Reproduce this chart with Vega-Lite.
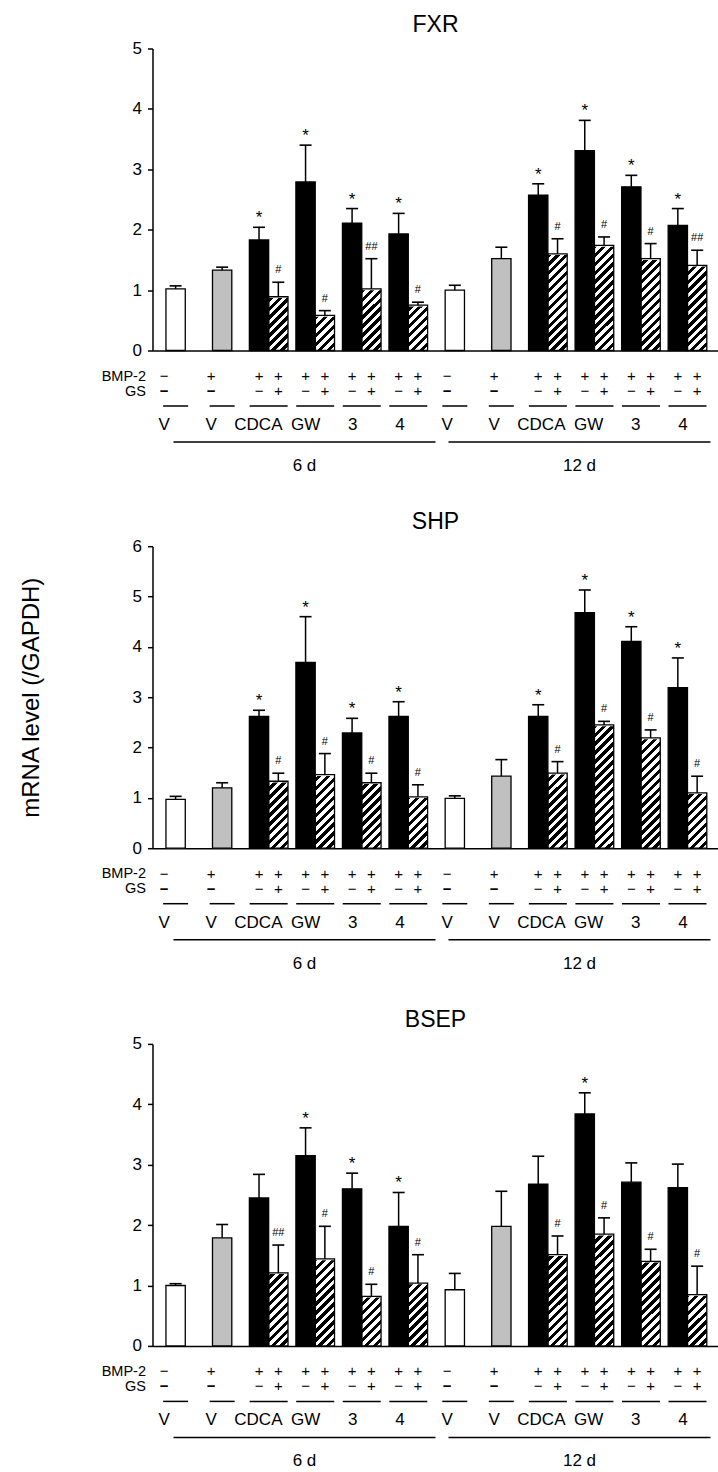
{
"$schema":"https://vega.github.io/schema/vega-lite/v6.json",
"padding":{"left":18.5,"top":13.5,"right":0,"bottom":0},
"spacing":36.7,
"datasets":{
"fxr":[
{"day":"6 d","grp":"6d V1","cpd":"V","bmp":"−","gs":"−","mean":1.02,"upper":1.07,"sig":""},
{"day":"6 d","grp":"6d V2","cpd":"V","bmp":"+","gs":"−","mean":1.33,"upper":1.38,"sig":""},
{"day":"6 d","grp":"6d CDCA","cpd":"CDCA","bmp":"+","gs":"−","mean":1.83,"upper":2.04,"sig":"*"},
{"day":"6 d","grp":"6d CDCA","cpd":"CDCA","bmp":"+","gs":"+","mean":0.89,"upper":1.13,"sig":"#"},
{"day":"6 d","grp":"6d GW","cpd":"GW","bmp":"+","gs":"−","mean":2.79,"upper":3.40,"sig":"*"},
{"day":"6 d","grp":"6d GW","cpd":"GW","bmp":"+","gs":"+","mean":0.58,"upper":0.66,"sig":"#"},
{"day":"6 d","grp":"6d 3","cpd":"3","bmp":"+","gs":"−","mean":2.11,"upper":2.35,"sig":"*"},
{"day":"6 d","grp":"6d 3","cpd":"3","bmp":"+","gs":"+","mean":1.02,"upper":1.52,"sig":"##"},
{"day":"6 d","grp":"6d 4","cpd":"4","bmp":"+","gs":"−","mean":1.93,"upper":2.27,"sig":"*"},
{"day":"6 d","grp":"6d 4","cpd":"4","bmp":"+","gs":"+","mean":0.75,"upper":0.80,"sig":"#"},
{"day":"12 d","grp":"12d V1","cpd":"V","bmp":"−","gs":"−","mean":1.00,"upper":1.08,"sig":""},
{"day":"12 d","grp":"12d V2","cpd":"V","bmp":"+","gs":"−","mean":1.52,"upper":1.71,"sig":""},
{"day":"12 d","grp":"12d CDCA","cpd":"CDCA","bmp":"+","gs":"−","mean":2.57,"upper":2.76,"sig":"*"},
{"day":"12 d","grp":"12d CDCA","cpd":"CDCA","bmp":"+","gs":"+","mean":1.60,"upper":1.85,"sig":"#"},
{"day":"12 d","grp":"12d GW","cpd":"GW","bmp":"+","gs":"−","mean":3.31,"upper":3.81,"sig":"*"},
{"day":"12 d","grp":"12d GW","cpd":"GW","bmp":"+","gs":"+","mean":1.74,"upper":1.88,"sig":"#"},
{"day":"12 d","grp":"12d 3","cpd":"3","bmp":"+","gs":"−","mean":2.71,"upper":2.90,"sig":"*"},
{"day":"12 d","grp":"12d 3","cpd":"3","bmp":"+","gs":"+","mean":1.52,"upper":1.77,"sig":"#"},
{"day":"12 d","grp":"12d 4","cpd":"4","bmp":"+","gs":"−","mean":2.07,"upper":2.35,"sig":"*"},
{"day":"12 d","grp":"12d 4","cpd":"4","bmp":"+","gs":"+","mean":1.41,"upper":1.66,"sig":"##"}
],
"shp":[
{"day":"6 d","grp":"6d V1","cpd":"V","bmp":"−","gs":"−","mean":0.97,"upper":1.03,"sig":""},
{"day":"6 d","grp":"6d V2","cpd":"V","bmp":"+","gs":"−","mean":1.20,"upper":1.30,"sig":""},
{"day":"6 d","grp":"6d CDCA","cpd":"CDCA","bmp":"+","gs":"−","mean":2.62,"upper":2.74,"sig":"*"},
{"day":"6 d","grp":"6d CDCA","cpd":"CDCA","bmp":"+","gs":"+","mean":1.33,"upper":1.49,"sig":"#"},
{"day":"6 d","grp":"6d GW","cpd":"GW","bmp":"+","gs":"−","mean":3.69,"upper":4.60,"sig":"*"},
{"day":"6 d","grp":"6d GW","cpd":"GW","bmp":"+","gs":"+","mean":1.46,"upper":1.88,"sig":"#"},
{"day":"6 d","grp":"6d 3","cpd":"3","bmp":"+","gs":"−","mean":2.29,"upper":2.58,"sig":"*"},
{"day":"6 d","grp":"6d 3","cpd":"3","bmp":"+","gs":"+","mean":1.30,"upper":1.49,"sig":"#"},
{"day":"6 d","grp":"6d 4","cpd":"4","bmp":"+","gs":"−","mean":2.62,"upper":2.91,"sig":"*"},
{"day":"6 d","grp":"6d 4","cpd":"4","bmp":"+","gs":"+","mean":1.02,"upper":1.26,"sig":"#"},
{"day":"12 d","grp":"12d V1","cpd":"V","bmp":"−","gs":"−","mean":0.99,"upper":1.04,"sig":""},
{"day":"12 d","grp":"12d V2","cpd":"V","bmp":"+","gs":"−","mean":1.43,"upper":1.76,"sig":""},
{"day":"12 d","grp":"12d CDCA","cpd":"CDCA","bmp":"+","gs":"−","mean":2.62,"upper":2.85,"sig":"*"},
{"day":"12 d","grp":"12d CDCA","cpd":"CDCA","bmp":"+","gs":"+","mean":1.49,"upper":1.72,"sig":"#"},
{"day":"12 d","grp":"12d GW","cpd":"GW","bmp":"+","gs":"−","mean":4.68,"upper":5.13,"sig":"*"},
{"day":"12 d","grp":"12d GW","cpd":"GW","bmp":"+","gs":"+","mean":2.45,"upper":2.52,"sig":"#"},
{"day":"12 d","grp":"12d 3","cpd":"3","bmp":"+","gs":"−","mean":4.11,"upper":4.40,"sig":"*"},
{"day":"12 d","grp":"12d 3","cpd":"3","bmp":"+","gs":"+","mean":2.19,"upper":2.35,"sig":"#"},
{"day":"12 d","grp":"12d 4","cpd":"4","bmp":"+","gs":"−","mean":3.19,"upper":3.78,"sig":"*"},
{"day":"12 d","grp":"12d 4","cpd":"4","bmp":"+","gs":"+","mean":1.10,"upper":1.43,"sig":"#"}
],
"bsep":[
{"day":"6 d","grp":"6d V1","cpd":"V","bmp":"−","gs":"−","mean":1.00,"upper":1.03,"sig":""},
{"day":"6 d","grp":"6d V2","cpd":"V","bmp":"+","gs":"−","mean":1.79,"upper":2.01,"sig":""},
{"day":"6 d","grp":"6d CDCA","cpd":"CDCA","bmp":"+","gs":"−","mean":2.45,"upper":2.84,"sig":""},
{"day":"6 d","grp":"6d CDCA","cpd":"CDCA","bmp":"+","gs":"+","mean":1.21,"upper":1.67,"sig":"##"},
{"day":"6 d","grp":"6d GW","cpd":"GW","bmp":"+","gs":"−","mean":3.15,"upper":3.61,"sig":"*"},
{"day":"6 d","grp":"6d GW","cpd":"GW","bmp":"+","gs":"+","mean":1.44,"upper":1.98,"sig":"#"},
{"day":"6 d","grp":"6d 3","cpd":"3","bmp":"+","gs":"−","mean":2.60,"upper":2.86,"sig":"*"},
{"day":"6 d","grp":"6d 3","cpd":"3","bmp":"+","gs":"+","mean":0.82,"upper":1.02,"sig":"#"},
{"day":"6 d","grp":"6d 4","cpd":"4","bmp":"+","gs":"−","mean":1.98,"upper":2.54,"sig":"*"},
{"day":"6 d","grp":"6d 4","cpd":"4","bmp":"+","gs":"+","mean":1.04,"upper":1.51,"sig":"#"},
{"day":"12 d","grp":"12d V1","cpd":"V","bmp":"−","gs":"−","mean":0.93,"upper":1.20,"sig":""},
{"day":"12 d","grp":"12d V2","cpd":"V","bmp":"+","gs":"−","mean":1.98,"upper":2.56,"sig":""},
{"day":"12 d","grp":"12d CDCA","cpd":"CDCA","bmp":"+","gs":"−","mean":2.68,"upper":3.14,"sig":""},
{"day":"12 d","grp":"12d CDCA","cpd":"CDCA","bmp":"+","gs":"+","mean":1.51,"upper":1.82,"sig":"#"},
{"day":"12 d","grp":"12d GW","cpd":"GW","bmp":"+","gs":"−","mean":3.84,"upper":4.19,"sig":"*"},
{"day":"12 d","grp":"12d GW","cpd":"GW","bmp":"+","gs":"+","mean":1.85,"upper":2.12,"sig":"#"},
{"day":"12 d","grp":"12d 3","cpd":"3","bmp":"+","gs":"−","mean":2.71,"upper":3.03,"sig":""},
{"day":"12 d","grp":"12d 3","cpd":"3","bmp":"+","gs":"+","mean":1.40,"upper":1.60,"sig":"#"},
{"day":"12 d","grp":"12d 4","cpd":"4","bmp":"+","gs":"−","mean":2.62,"upper":3.01,"sig":""},
{"day":"12 d","grp":"12d 4","cpd":"4","bmp":"+","gs":"+","mean":0.85,"upper":1.32,"sig":"#"}
]
},
"vconcat":[
{"spacing":9.5,"vconcat":[
{"title":{"text":"FXR"},"width":566,"height":302,"data":{"name":"fxr"},
"encoding":{
"x":{"field":"grp","type":"nominal","sort":null,"scale":{"domain":["6d V1","6d V2","6d CDCA","6d GW","6d 3","6d 4","12d V1","12d V2","12d CDCA","12d GW","12d 3","12d 4"],"paddingInner":0.17,"paddingOuter":0.1666,"align":0.245},"axis":{"labels":false,"ticks":false,"title":null}},
"y":{"field":"mean","type":"quantitative","title":null,"scale":{"domain":[0,5],"nice":false},"axis":{"values":[0,1,2,3,4,5]}}},
"layer":[
{"transform":[{"filter":"datum.gs === '+'"}],"mark":{"type":"bar","strokeWidth":0,"fill":{"gradient":"linear","x1":0,"y1":0,"x2":0.0677,"y2":1.0596,"stops":[{"offset":0,"color":"#000"},{"offset":0.0139,"color":"#000"},{"offset":0.0139,"color":"#fff"},{"offset":0.0278,"color":"#fff"},{"offset":0.0278,"color":"#000"},{"offset":0.0417,"color":"#000"},{"offset":0.0417,"color":"#fff"},{"offset":0.0556,"color":"#fff"},{"offset":0.0556,"color":"#000"},{"offset":0.0694,"color":"#000"},{"offset":0.0694,"color":"#fff"},{"offset":0.0833,"color":"#fff"},{"offset":0.0833,"color":"#000"},{"offset":0.0972,"color":"#000"},{"offset":0.0972,"color":"#fff"},{"offset":0.1111,"color":"#fff"},{"offset":0.1111,"color":"#000"},{"offset":0.125,"color":"#000"},{"offset":0.125,"color":"#fff"},{"offset":0.1389,"color":"#fff"},{"offset":0.1389,"color":"#000"},{"offset":0.1528,"color":"#000"},{"offset":0.1528,"color":"#fff"},{"offset":0.1667,"color":"#fff"},{"offset":0.1667,"color":"#000"},{"offset":0.1806,"color":"#000"},{"offset":0.1806,"color":"#fff"},{"offset":0.1944,"color":"#fff"},{"offset":0.1944,"color":"#000"},{"offset":0.2083,"color":"#000"},{"offset":0.2083,"color":"#fff"},{"offset":0.2222,"color":"#fff"},{"offset":0.2222,"color":"#000"},{"offset":0.2361,"color":"#000"},{"offset":0.2361,"color":"#fff"},{"offset":0.25,"color":"#fff"},{"offset":0.25,"color":"#000"},{"offset":0.2639,"color":"#000"},{"offset":0.2639,"color":"#fff"},{"offset":0.2778,"color":"#fff"},{"offset":0.2778,"color":"#000"},{"offset":0.2917,"color":"#000"},{"offset":0.2917,"color":"#fff"},{"offset":0.3056,"color":"#fff"},{"offset":0.3056,"color":"#000"},{"offset":0.3194,"color":"#000"},{"offset":0.3194,"color":"#fff"},{"offset":0.3333,"color":"#fff"},{"offset":0.3333,"color":"#000"},{"offset":0.3472,"color":"#000"},{"offset":0.3472,"color":"#fff"},{"offset":0.3611,"color":"#fff"},{"offset":0.3611,"color":"#000"},{"offset":0.375,"color":"#000"},{"offset":0.375,"color":"#fff"},{"offset":0.3889,"color":"#fff"},{"offset":0.3889,"color":"#000"},{"offset":0.4028,"color":"#000"},{"offset":0.4028,"color":"#fff"},{"offset":0.4167,"color":"#fff"},{"offset":0.4167,"color":"#000"},{"offset":0.4306,"color":"#000"},{"offset":0.4306,"color":"#fff"},{"offset":0.4444,"color":"#fff"},{"offset":0.4444,"color":"#000"},{"offset":0.4583,"color":"#000"},{"offset":0.4583,"color":"#fff"},{"offset":0.4722,"color":"#fff"},{"offset":0.4722,"color":"#000"},{"offset":0.4861,"color":"#000"},{"offset":0.4861,"color":"#fff"},{"offset":0.5,"color":"#fff"},{"offset":0.5,"color":"#000"},{"offset":0.5139,"color":"#000"},{"offset":0.5139,"color":"#fff"},{"offset":0.5278,"color":"#fff"},{"offset":0.5278,"color":"#000"},{"offset":0.5417,"color":"#000"},{"offset":0.5417,"color":"#fff"},{"offset":0.5556,"color":"#fff"},{"offset":0.5556,"color":"#000"},{"offset":0.5694,"color":"#000"},{"offset":0.5694,"color":"#fff"},{"offset":0.5833,"color":"#fff"},{"offset":0.5833,"color":"#000"},{"offset":0.5972,"color":"#000"},{"offset":0.5972,"color":"#fff"},{"offset":0.6111,"color":"#fff"},{"offset":0.6111,"color":"#000"},{"offset":0.625,"color":"#000"},{"offset":0.625,"color":"#fff"},{"offset":0.6389,"color":"#fff"},{"offset":0.6389,"color":"#000"},{"offset":0.6528,"color":"#000"},{"offset":0.6528,"color":"#fff"},{"offset":0.6667,"color":"#fff"},{"offset":0.6667,"color":"#000"},{"offset":0.6806,"color":"#000"},{"offset":0.6806,"color":"#fff"},{"offset":0.6944,"color":"#fff"},{"offset":0.6944,"color":"#000"},{"offset":0.7083,"color":"#000"},{"offset":0.7083,"color":"#fff"},{"offset":0.7222,"color":"#fff"},{"offset":0.7222,"color":"#000"},{"offset":0.7361,"color":"#000"},{"offset":0.7361,"color":"#fff"},{"offset":0.75,"color":"#fff"},{"offset":0.75,"color":"#000"},{"offset":0.7639,"color":"#000"},{"offset":0.7639,"color":"#fff"},{"offset":0.7778,"color":"#fff"},{"offset":0.7778,"color":"#000"},{"offset":0.7917,"color":"#000"},{"offset":0.7917,"color":"#fff"},{"offset":0.8056,"color":"#fff"},{"offset":0.8056,"color":"#000"},{"offset":0.8194,"color":"#000"},{"offset":0.8194,"color":"#fff"},{"offset":0.8333,"color":"#fff"},{"offset":0.8333,"color":"#000"},{"offset":0.8472,"color":"#000"},{"offset":0.8472,"color":"#fff"},{"offset":0.8611,"color":"#fff"},{"offset":0.8611,"color":"#000"},{"offset":0.875,"color":"#000"},{"offset":0.875,"color":"#fff"},{"offset":0.8889,"color":"#fff"},{"offset":0.8889,"color":"#000"},{"offset":0.9028,"color":"#000"},{"offset":0.9028,"color":"#fff"},{"offset":0.9167,"color":"#fff"},{"offset":0.9167,"color":"#000"},{"offset":0.9306,"color":"#000"},{"offset":0.9306,"color":"#fff"},{"offset":0.9444,"color":"#fff"},{"offset":0.9444,"color":"#000"},{"offset":0.9583,"color":"#000"},{"offset":0.9583,"color":"#fff"},{"offset":0.9722,"color":"#fff"},{"offset":0.9722,"color":"#000"},{"offset":0.9861,"color":"#000"},{"offset":0.9861,"color":"#fff"},{"offset":1,"color":"#fff"}]}},"encoding":{"xOffset":{"field":"gs","type":"nominal","sort":null,"scale":{"domain":["−","+"],"paddingInner":0,"paddingOuter":0}},"y":{"datum":5,"type":"quantitative","title":null},"y2":{"datum":0}}},
{"transform":[{"filter":"datum.gs === '+'"}],"mark":{"type":"bar","fill":"#fff","stroke":"#fff","strokeWidth":2.5},"encoding":{"xOffset":{"field":"gs","type":"nominal","sort":null,"scale":{"domain":["−","+"],"paddingInner":0,"paddingOuter":0}},"y2":{"datum":5}}},
{"transform":[{"filter":"datum.cpd === 'V'"}],"mark":{"type":"bar","width":{"band":0.5},"stroke":"#000","strokeWidth":1.3},"encoding":{"fill":{"condition":{"test":"datum.bmp === '−'","value":"#ffffff"},"value":"#c0c0c0"}}},
{"transform":[{"filter":"datum.cpd !== 'V' && datum.gs === '−'"}],"mark":{"type":"bar","fill":"#000","stroke":"#000","strokeWidth":1.3},"encoding":{"xOffset":{"field":"gs","type":"nominal","sort":null,"scale":{"domain":["−","+"],"paddingInner":0,"paddingOuter":0}}}},
{"transform":[{"filter":"datum.gs === '+'"}],"mark":{"type":"bar","fill":"transparent","stroke":"#000","strokeWidth":1.3},"encoding":{"xOffset":{"field":"gs","type":"nominal","sort":null,"scale":{"domain":["−","+"],"paddingInner":0,"paddingOuter":0}}}},
{"transform":[{"filter":"datum.cpd === 'V'"}],"mark":{"type":"rule","color":"#000","strokeWidth":1.5},"encoding":{"y2":{"field":"upper"}}},
{"transform":[{"filter":"datum.cpd !== 'V'"}],"mark":{"type":"rule","color":"#000","strokeWidth":1.5},"encoding":{"xOffset":{"field":"gs","type":"nominal","sort":null,"scale":{"domain":["−","+"],"paddingInner":0,"paddingOuter":0}},"y2":{"field":"upper"}}},
{"transform":[{"filter":"datum.cpd === 'V'"}],"mark":{"type":"tick","orient":"horizontal","size":12,"thickness":1.6,"color":"#000","opacity":1},"encoding":{"y":{"field":"upper","type":"quantitative","title":null}}},
{"transform":[{"filter":"datum.cpd !== 'V'"}],"mark":{"type":"tick","orient":"horizontal","size":12,"thickness":1.6,"color":"#000","opacity":1},"encoding":{"xOffset":{"field":"gs","type":"nominal","sort":null,"scale":{"domain":["−","+"],"paddingInner":0,"paddingOuter":0}},"y":{"field":"upper","type":"quantitative","title":null}}},
{"transform":[{"filter":"datum.sig === '*'"}],"mark":{"type":"text","text":"*","fontSize":17,"dy":-9,"color":"#000"},"encoding":{"xOffset":{"field":"gs","type":"nominal","sort":null,"scale":{"domain":["−","+"],"paddingInner":0,"paddingOuter":0}},"y":{"field":"upper","type":"quantitative","title":null}}},
{"transform":[{"filter":"indexof(datum.sig, '#') === 0"}],"mark":{"type":"text","fontSize":11,"dy":-12,"color":"#000"},"encoding":{"xOffset":{"field":"gs","type":"nominal","sort":null,"scale":{"domain":["−","+"],"paddingInner":0,"paddingOuter":0}},"y":{"field":"upper","type":"quantitative","title":null},"text":{"field":"sig"}}}
]},
{"width":566,"height":90,"data":{"name":"fxr"},
"encoding":{"x":{"field":"grp","type":"nominal","sort":null,"scale":{"domain":["6d V1","6d V2","6d CDCA","6d GW","6d 3","6d 4","12d V1","12d V2","12d CDCA","12d GW","12d 3","12d 4"],"paddingInner":0.17,"paddingOuter":0.1666,"align":0.245},"axis":null}},
"resolve":{"scale":{"x":"independent"}},
"layer":[
{"transform":[{"filter":"datum.cpd === 'V'"}],"mark":{"type":"text","fontSize":15},"encoding":{"y":{"datum":"BMP-2","type":"ordinal","title":null,"scale":{"type":"point","domain":["BMP-2","GS","line","name","span","gap","day"],"padding":0},"axis":{"domain":false,"ticks":false,"labelPadding":7,"labelFontSize":14.5,"labelExpr":"datum.value === 'BMP-2' || datum.value === 'GS' ? datum.value : ''"}},"text":{"field":"bmp"},"fontWeight":{"condition":{"test":"datum.bmp === '−'","value":"bold"},"value":"normal"}}},
{"transform":[{"filter":"datum.cpd === 'V'"}],"mark":{"type":"text","fontSize":15,"fontWeight":"bold"},"encoding":{"y":{"datum":"GS","type":"ordinal","title":null,"scale":{"type":"point","domain":["BMP-2","GS","line","name","span","gap","day"],"padding":0}},"text":{"field":"gs"}}},
{"transform":[{"filter":"datum.cpd !== 'V'"}],"mark":{"type":"text","fontSize":15},"encoding":{"xOffset":{"field":"gs","type":"nominal","sort":null,"scale":{"domain":["−","+"],"paddingInner":0,"paddingOuter":0}},"y":{"datum":"BMP-2","type":"ordinal","title":null,"scale":{"type":"point","domain":["BMP-2","GS","line","name","span","gap","day"],"padding":0}},"text":{"field":"bmp"}}},
{"transform":[{"filter":"datum.cpd !== 'V'"}],"mark":{"type":"text","fontSize":15},"encoding":{"xOffset":{"field":"gs","type":"nominal","sort":null,"scale":{"domain":["−","+"],"paddingInner":0,"paddingOuter":0}},"y":{"datum":"GS","type":"ordinal","title":null,"scale":{"type":"point","domain":["BMP-2","GS","line","name","span","gap","day"],"padding":0}},"text":{"field":"gs"},"fontWeight":{"condition":{"test":"datum.gs === '−'","value":"bold"},"value":"normal"}}},
{"transform":[{"filter":"datum.gs === '−'"}],"mark":{"type":"text","fontSize":17,"dy":4},"encoding":{"y":{"datum":"name","type":"ordinal","title":null,"scale":{"type":"point","domain":["BMP-2","GS","line","name","span","gap","day"],"padding":0}},"text":{"field":"cpd"},"fontWeight":{"condition":{"test":"datum.cpd === '3' || datum.cpd === '4'","value":"bold"},"value":"normal"}}},
{"transform":[{"filter":"datum.cpd === 'V'"}],"mark":{"type":"tick","orient":"horizontal","size":25,"thickness":1.5,"color":"#000","opacity":1},"encoding":{"y":{"datum":"line","type":"ordinal","title":null,"scale":{"type":"point","domain":["BMP-2","GS","line","name","span","gap","day"],"padding":0}}}},
{"transform":[{"filter":"datum.cpd !== 'V' && datum.gs === '−'"}],"mark":{"type":"tick","orient":"horizontal","size":38,"thickness":1.5,"color":"#000","opacity":1},"encoding":{"y":{"datum":"line","type":"ordinal","title":null,"scale":{"type":"point","domain":["BMP-2","GS","line","name","span","gap","day"],"padding":0}}}},
{"transform":[{"filter":"datum.cpd === 'V' && datum.bmp === '−'"}],"mark":{"type":"tick","orient":"horizontal","size":262,"thickness":1.5,"color":"#000","opacity":1,"yOffset":6},"encoding":{"x":{"field":"day","type":"nominal","sort":null,"scale":{"type":"band","domain":["6 d","12 d"],"paddingInner":0,"paddingOuter":0.0291,"align":0.906},"axis":null},"y":{"datum":"span","type":"ordinal","title":null,"scale":{"type":"point","domain":["BMP-2","GS","line","name","span","gap","day"],"padding":0}}}},
{"transform":[{"filter":"datum.cpd === 'V' && datum.bmp === '−'"}],"mark":{"type":"text","fontSize":17},"encoding":{"x":{"field":"day","type":"nominal","sort":null,"scale":{"type":"band","domain":["6 d","12 d"],"paddingInner":0,"paddingOuter":0.0291,"align":0.906},"axis":null},"y":{"datum":"day","type":"ordinal","title":null,"scale":{"type":"point","domain":["BMP-2","GS","line","name","span","gap","day"],"padding":0}},"text":{"field":"day"}}}
]}
]},
{"spacing":9.5,"vconcat":[
{"title":{"text":"SHP"},"width":566,"height":302,"data":{"name":"shp"},
"encoding":{
"x":{"field":"grp","type":"nominal","sort":null,"scale":{"domain":["6d V1","6d V2","6d CDCA","6d GW","6d 3","6d 4","12d V1","12d V2","12d CDCA","12d GW","12d 3","12d 4"],"paddingInner":0.17,"paddingOuter":0.1666,"align":0.245},"axis":{"labels":false,"ticks":false,"title":null}},
"y":{"field":"mean","type":"quantitative","title":"mRNA level  (/GAPDH)","scale":{"domain":[0,6],"nice":false},"axis":{"values":[0,1,2,3,4,5,6]}}},
"layer":[
{"transform":[{"filter":"datum.gs === '+'"}],"mark":{"type":"bar","strokeWidth":0,"fill":{"gradient":"linear","x1":0,"y1":0,"x2":0.0677,"y2":1.0596,"stops":[{"offset":0,"color":"#000"},{"offset":0.0139,"color":"#000"},{"offset":0.0139,"color":"#fff"},{"offset":0.0278,"color":"#fff"},{"offset":0.0278,"color":"#000"},{"offset":0.0417,"color":"#000"},{"offset":0.0417,"color":"#fff"},{"offset":0.0556,"color":"#fff"},{"offset":0.0556,"color":"#000"},{"offset":0.0694,"color":"#000"},{"offset":0.0694,"color":"#fff"},{"offset":0.0833,"color":"#fff"},{"offset":0.0833,"color":"#000"},{"offset":0.0972,"color":"#000"},{"offset":0.0972,"color":"#fff"},{"offset":0.1111,"color":"#fff"},{"offset":0.1111,"color":"#000"},{"offset":0.125,"color":"#000"},{"offset":0.125,"color":"#fff"},{"offset":0.1389,"color":"#fff"},{"offset":0.1389,"color":"#000"},{"offset":0.1528,"color":"#000"},{"offset":0.1528,"color":"#fff"},{"offset":0.1667,"color":"#fff"},{"offset":0.1667,"color":"#000"},{"offset":0.1806,"color":"#000"},{"offset":0.1806,"color":"#fff"},{"offset":0.1944,"color":"#fff"},{"offset":0.1944,"color":"#000"},{"offset":0.2083,"color":"#000"},{"offset":0.2083,"color":"#fff"},{"offset":0.2222,"color":"#fff"},{"offset":0.2222,"color":"#000"},{"offset":0.2361,"color":"#000"},{"offset":0.2361,"color":"#fff"},{"offset":0.25,"color":"#fff"},{"offset":0.25,"color":"#000"},{"offset":0.2639,"color":"#000"},{"offset":0.2639,"color":"#fff"},{"offset":0.2778,"color":"#fff"},{"offset":0.2778,"color":"#000"},{"offset":0.2917,"color":"#000"},{"offset":0.2917,"color":"#fff"},{"offset":0.3056,"color":"#fff"},{"offset":0.3056,"color":"#000"},{"offset":0.3194,"color":"#000"},{"offset":0.3194,"color":"#fff"},{"offset":0.3333,"color":"#fff"},{"offset":0.3333,"color":"#000"},{"offset":0.3472,"color":"#000"},{"offset":0.3472,"color":"#fff"},{"offset":0.3611,"color":"#fff"},{"offset":0.3611,"color":"#000"},{"offset":0.375,"color":"#000"},{"offset":0.375,"color":"#fff"},{"offset":0.3889,"color":"#fff"},{"offset":0.3889,"color":"#000"},{"offset":0.4028,"color":"#000"},{"offset":0.4028,"color":"#fff"},{"offset":0.4167,"color":"#fff"},{"offset":0.4167,"color":"#000"},{"offset":0.4306,"color":"#000"},{"offset":0.4306,"color":"#fff"},{"offset":0.4444,"color":"#fff"},{"offset":0.4444,"color":"#000"},{"offset":0.4583,"color":"#000"},{"offset":0.4583,"color":"#fff"},{"offset":0.4722,"color":"#fff"},{"offset":0.4722,"color":"#000"},{"offset":0.4861,"color":"#000"},{"offset":0.4861,"color":"#fff"},{"offset":0.5,"color":"#fff"},{"offset":0.5,"color":"#000"},{"offset":0.5139,"color":"#000"},{"offset":0.5139,"color":"#fff"},{"offset":0.5278,"color":"#fff"},{"offset":0.5278,"color":"#000"},{"offset":0.5417,"color":"#000"},{"offset":0.5417,"color":"#fff"},{"offset":0.5556,"color":"#fff"},{"offset":0.5556,"color":"#000"},{"offset":0.5694,"color":"#000"},{"offset":0.5694,"color":"#fff"},{"offset":0.5833,"color":"#fff"},{"offset":0.5833,"color":"#000"},{"offset":0.5972,"color":"#000"},{"offset":0.5972,"color":"#fff"},{"offset":0.6111,"color":"#fff"},{"offset":0.6111,"color":"#000"},{"offset":0.625,"color":"#000"},{"offset":0.625,"color":"#fff"},{"offset":0.6389,"color":"#fff"},{"offset":0.6389,"color":"#000"},{"offset":0.6528,"color":"#000"},{"offset":0.6528,"color":"#fff"},{"offset":0.6667,"color":"#fff"},{"offset":0.6667,"color":"#000"},{"offset":0.6806,"color":"#000"},{"offset":0.6806,"color":"#fff"},{"offset":0.6944,"color":"#fff"},{"offset":0.6944,"color":"#000"},{"offset":0.7083,"color":"#000"},{"offset":0.7083,"color":"#fff"},{"offset":0.7222,"color":"#fff"},{"offset":0.7222,"color":"#000"},{"offset":0.7361,"color":"#000"},{"offset":0.7361,"color":"#fff"},{"offset":0.75,"color":"#fff"},{"offset":0.75,"color":"#000"},{"offset":0.7639,"color":"#000"},{"offset":0.7639,"color":"#fff"},{"offset":0.7778,"color":"#fff"},{"offset":0.7778,"color":"#000"},{"offset":0.7917,"color":"#000"},{"offset":0.7917,"color":"#fff"},{"offset":0.8056,"color":"#fff"},{"offset":0.8056,"color":"#000"},{"offset":0.8194,"color":"#000"},{"offset":0.8194,"color":"#fff"},{"offset":0.8333,"color":"#fff"},{"offset":0.8333,"color":"#000"},{"offset":0.8472,"color":"#000"},{"offset":0.8472,"color":"#fff"},{"offset":0.8611,"color":"#fff"},{"offset":0.8611,"color":"#000"},{"offset":0.875,"color":"#000"},{"offset":0.875,"color":"#fff"},{"offset":0.8889,"color":"#fff"},{"offset":0.8889,"color":"#000"},{"offset":0.9028,"color":"#000"},{"offset":0.9028,"color":"#fff"},{"offset":0.9167,"color":"#fff"},{"offset":0.9167,"color":"#000"},{"offset":0.9306,"color":"#000"},{"offset":0.9306,"color":"#fff"},{"offset":0.9444,"color":"#fff"},{"offset":0.9444,"color":"#000"},{"offset":0.9583,"color":"#000"},{"offset":0.9583,"color":"#fff"},{"offset":0.9722,"color":"#fff"},{"offset":0.9722,"color":"#000"},{"offset":0.9861,"color":"#000"},{"offset":0.9861,"color":"#fff"},{"offset":1,"color":"#fff"}]}},"encoding":{"xOffset":{"field":"gs","type":"nominal","sort":null,"scale":{"domain":["−","+"],"paddingInner":0,"paddingOuter":0}},"y":{"datum":6,"type":"quantitative","title":"mRNA level  (/GAPDH)"},"y2":{"datum":0}}},
{"transform":[{"filter":"datum.gs === '+'"}],"mark":{"type":"bar","fill":"#fff","stroke":"#fff","strokeWidth":2.5},"encoding":{"xOffset":{"field":"gs","type":"nominal","sort":null,"scale":{"domain":["−","+"],"paddingInner":0,"paddingOuter":0}},"y2":{"datum":6}}},
{"transform":[{"filter":"datum.cpd === 'V'"}],"mark":{"type":"bar","width":{"band":0.5},"stroke":"#000","strokeWidth":1.3},"encoding":{"fill":{"condition":{"test":"datum.bmp === '−'","value":"#ffffff"},"value":"#c0c0c0"}}},
{"transform":[{"filter":"datum.cpd !== 'V' && datum.gs === '−'"}],"mark":{"type":"bar","fill":"#000","stroke":"#000","strokeWidth":1.3},"encoding":{"xOffset":{"field":"gs","type":"nominal","sort":null,"scale":{"domain":["−","+"],"paddingInner":0,"paddingOuter":0}}}},
{"transform":[{"filter":"datum.gs === '+'"}],"mark":{"type":"bar","fill":"transparent","stroke":"#000","strokeWidth":1.3},"encoding":{"xOffset":{"field":"gs","type":"nominal","sort":null,"scale":{"domain":["−","+"],"paddingInner":0,"paddingOuter":0}}}},
{"transform":[{"filter":"datum.cpd === 'V'"}],"mark":{"type":"rule","color":"#000","strokeWidth":1.5},"encoding":{"y2":{"field":"upper"}}},
{"transform":[{"filter":"datum.cpd !== 'V'"}],"mark":{"type":"rule","color":"#000","strokeWidth":1.5},"encoding":{"xOffset":{"field":"gs","type":"nominal","sort":null,"scale":{"domain":["−","+"],"paddingInner":0,"paddingOuter":0}},"y2":{"field":"upper"}}},
{"transform":[{"filter":"datum.cpd === 'V'"}],"mark":{"type":"tick","orient":"horizontal","size":12,"thickness":1.6,"color":"#000","opacity":1},"encoding":{"y":{"field":"upper","type":"quantitative","title":"mRNA level  (/GAPDH)"}}},
{"transform":[{"filter":"datum.cpd !== 'V'"}],"mark":{"type":"tick","orient":"horizontal","size":12,"thickness":1.6,"color":"#000","opacity":1},"encoding":{"xOffset":{"field":"gs","type":"nominal","sort":null,"scale":{"domain":["−","+"],"paddingInner":0,"paddingOuter":0}},"y":{"field":"upper","type":"quantitative","title":"mRNA level  (/GAPDH)"}}},
{"transform":[{"filter":"datum.sig === '*'"}],"mark":{"type":"text","text":"*","fontSize":17,"dy":-9,"color":"#000"},"encoding":{"xOffset":{"field":"gs","type":"nominal","sort":null,"scale":{"domain":["−","+"],"paddingInner":0,"paddingOuter":0}},"y":{"field":"upper","type":"quantitative","title":"mRNA level  (/GAPDH)"}}},
{"transform":[{"filter":"indexof(datum.sig, '#') === 0"}],"mark":{"type":"text","fontSize":11,"dy":-12,"color":"#000"},"encoding":{"xOffset":{"field":"gs","type":"nominal","sort":null,"scale":{"domain":["−","+"],"paddingInner":0,"paddingOuter":0}},"y":{"field":"upper","type":"quantitative","title":"mRNA level  (/GAPDH)"},"text":{"field":"sig"}}}
]},
{"width":566,"height":90,"data":{"name":"shp"},
"encoding":{"x":{"field":"grp","type":"nominal","sort":null,"scale":{"domain":["6d V1","6d V2","6d CDCA","6d GW","6d 3","6d 4","12d V1","12d V2","12d CDCA","12d GW","12d 3","12d 4"],"paddingInner":0.17,"paddingOuter":0.1666,"align":0.245},"axis":null}},
"resolve":{"scale":{"x":"independent"}},
"layer":[
{"transform":[{"filter":"datum.cpd === 'V'"}],"mark":{"type":"text","fontSize":15},"encoding":{"y":{"datum":"BMP-2","type":"ordinal","title":null,"scale":{"type":"point","domain":["BMP-2","GS","line","name","span","gap","day"],"padding":0},"axis":{"domain":false,"ticks":false,"labelPadding":7,"labelFontSize":14.5,"labelExpr":"datum.value === 'BMP-2' || datum.value === 'GS' ? datum.value : ''"}},"text":{"field":"bmp"},"fontWeight":{"condition":{"test":"datum.bmp === '−'","value":"bold"},"value":"normal"}}},
{"transform":[{"filter":"datum.cpd === 'V'"}],"mark":{"type":"text","fontSize":15,"fontWeight":"bold"},"encoding":{"y":{"datum":"GS","type":"ordinal","title":null,"scale":{"type":"point","domain":["BMP-2","GS","line","name","span","gap","day"],"padding":0}},"text":{"field":"gs"}}},
{"transform":[{"filter":"datum.cpd !== 'V'"}],"mark":{"type":"text","fontSize":15},"encoding":{"xOffset":{"field":"gs","type":"nominal","sort":null,"scale":{"domain":["−","+"],"paddingInner":0,"paddingOuter":0}},"y":{"datum":"BMP-2","type":"ordinal","title":null,"scale":{"type":"point","domain":["BMP-2","GS","line","name","span","gap","day"],"padding":0}},"text":{"field":"bmp"}}},
{"transform":[{"filter":"datum.cpd !== 'V'"}],"mark":{"type":"text","fontSize":15},"encoding":{"xOffset":{"field":"gs","type":"nominal","sort":null,"scale":{"domain":["−","+"],"paddingInner":0,"paddingOuter":0}},"y":{"datum":"GS","type":"ordinal","title":null,"scale":{"type":"point","domain":["BMP-2","GS","line","name","span","gap","day"],"padding":0}},"text":{"field":"gs"},"fontWeight":{"condition":{"test":"datum.gs === '−'","value":"bold"},"value":"normal"}}},
{"transform":[{"filter":"datum.gs === '−'"}],"mark":{"type":"text","fontSize":17,"dy":4},"encoding":{"y":{"datum":"name","type":"ordinal","title":null,"scale":{"type":"point","domain":["BMP-2","GS","line","name","span","gap","day"],"padding":0}},"text":{"field":"cpd"},"fontWeight":{"condition":{"test":"datum.cpd === '3' || datum.cpd === '4'","value":"bold"},"value":"normal"}}},
{"transform":[{"filter":"datum.cpd === 'V'"}],"mark":{"type":"tick","orient":"horizontal","size":25,"thickness":1.5,"color":"#000","opacity":1},"encoding":{"y":{"datum":"line","type":"ordinal","title":null,"scale":{"type":"point","domain":["BMP-2","GS","line","name","span","gap","day"],"padding":0}}}},
{"transform":[{"filter":"datum.cpd !== 'V' && datum.gs === '−'"}],"mark":{"type":"tick","orient":"horizontal","size":38,"thickness":1.5,"color":"#000","opacity":1},"encoding":{"y":{"datum":"line","type":"ordinal","title":null,"scale":{"type":"point","domain":["BMP-2","GS","line","name","span","gap","day"],"padding":0}}}},
{"transform":[{"filter":"datum.cpd === 'V' && datum.bmp === '−'"}],"mark":{"type":"tick","orient":"horizontal","size":262,"thickness":1.5,"color":"#000","opacity":1,"yOffset":6},"encoding":{"x":{"field":"day","type":"nominal","sort":null,"scale":{"type":"band","domain":["6 d","12 d"],"paddingInner":0,"paddingOuter":0.0291,"align":0.906},"axis":null},"y":{"datum":"span","type":"ordinal","title":null,"scale":{"type":"point","domain":["BMP-2","GS","line","name","span","gap","day"],"padding":0}}}},
{"transform":[{"filter":"datum.cpd === 'V' && datum.bmp === '−'"}],"mark":{"type":"text","fontSize":17},"encoding":{"x":{"field":"day","type":"nominal","sort":null,"scale":{"type":"band","domain":["6 d","12 d"],"paddingInner":0,"paddingOuter":0.0291,"align":0.906},"axis":null},"y":{"datum":"day","type":"ordinal","title":null,"scale":{"type":"point","domain":["BMP-2","GS","line","name","span","gap","day"],"padding":0}},"text":{"field":"day"}}}
]}
]},
{"spacing":9.5,"vconcat":[
{"title":{"text":"BSEP"},"width":566,"height":302,"data":{"name":"bsep"},
"encoding":{
"x":{"field":"grp","type":"nominal","sort":null,"scale":{"domain":["6d V1","6d V2","6d CDCA","6d GW","6d 3","6d 4","12d V1","12d V2","12d CDCA","12d GW","12d 3","12d 4"],"paddingInner":0.17,"paddingOuter":0.1666,"align":0.245},"axis":{"labels":false,"ticks":false,"title":null}},
"y":{"field":"mean","type":"quantitative","title":null,"scale":{"domain":[0,5],"nice":false},"axis":{"values":[0,1,2,3,4,5]}}},
"layer":[
{"transform":[{"filter":"datum.gs === '+'"}],"mark":{"type":"bar","strokeWidth":0,"fill":{"gradient":"linear","x1":0,"y1":0,"x2":0.0677,"y2":1.0596,"stops":[{"offset":0,"color":"#000"},{"offset":0.0139,"color":"#000"},{"offset":0.0139,"color":"#fff"},{"offset":0.0278,"color":"#fff"},{"offset":0.0278,"color":"#000"},{"offset":0.0417,"color":"#000"},{"offset":0.0417,"color":"#fff"},{"offset":0.0556,"color":"#fff"},{"offset":0.0556,"color":"#000"},{"offset":0.0694,"color":"#000"},{"offset":0.0694,"color":"#fff"},{"offset":0.0833,"color":"#fff"},{"offset":0.0833,"color":"#000"},{"offset":0.0972,"color":"#000"},{"offset":0.0972,"color":"#fff"},{"offset":0.1111,"color":"#fff"},{"offset":0.1111,"color":"#000"},{"offset":0.125,"color":"#000"},{"offset":0.125,"color":"#fff"},{"offset":0.1389,"color":"#fff"},{"offset":0.1389,"color":"#000"},{"offset":0.1528,"color":"#000"},{"offset":0.1528,"color":"#fff"},{"offset":0.1667,"color":"#fff"},{"offset":0.1667,"color":"#000"},{"offset":0.1806,"color":"#000"},{"offset":0.1806,"color":"#fff"},{"offset":0.1944,"color":"#fff"},{"offset":0.1944,"color":"#000"},{"offset":0.2083,"color":"#000"},{"offset":0.2083,"color":"#fff"},{"offset":0.2222,"color":"#fff"},{"offset":0.2222,"color":"#000"},{"offset":0.2361,"color":"#000"},{"offset":0.2361,"color":"#fff"},{"offset":0.25,"color":"#fff"},{"offset":0.25,"color":"#000"},{"offset":0.2639,"color":"#000"},{"offset":0.2639,"color":"#fff"},{"offset":0.2778,"color":"#fff"},{"offset":0.2778,"color":"#000"},{"offset":0.2917,"color":"#000"},{"offset":0.2917,"color":"#fff"},{"offset":0.3056,"color":"#fff"},{"offset":0.3056,"color":"#000"},{"offset":0.3194,"color":"#000"},{"offset":0.3194,"color":"#fff"},{"offset":0.3333,"color":"#fff"},{"offset":0.3333,"color":"#000"},{"offset":0.3472,"color":"#000"},{"offset":0.3472,"color":"#fff"},{"offset":0.3611,"color":"#fff"},{"offset":0.3611,"color":"#000"},{"offset":0.375,"color":"#000"},{"offset":0.375,"color":"#fff"},{"offset":0.3889,"color":"#fff"},{"offset":0.3889,"color":"#000"},{"offset":0.4028,"color":"#000"},{"offset":0.4028,"color":"#fff"},{"offset":0.4167,"color":"#fff"},{"offset":0.4167,"color":"#000"},{"offset":0.4306,"color":"#000"},{"offset":0.4306,"color":"#fff"},{"offset":0.4444,"color":"#fff"},{"offset":0.4444,"color":"#000"},{"offset":0.4583,"color":"#000"},{"offset":0.4583,"color":"#fff"},{"offset":0.4722,"color":"#fff"},{"offset":0.4722,"color":"#000"},{"offset":0.4861,"color":"#000"},{"offset":0.4861,"color":"#fff"},{"offset":0.5,"color":"#fff"},{"offset":0.5,"color":"#000"},{"offset":0.5139,"color":"#000"},{"offset":0.5139,"color":"#fff"},{"offset":0.5278,"color":"#fff"},{"offset":0.5278,"color":"#000"},{"offset":0.5417,"color":"#000"},{"offset":0.5417,"color":"#fff"},{"offset":0.5556,"color":"#fff"},{"offset":0.5556,"color":"#000"},{"offset":0.5694,"color":"#000"},{"offset":0.5694,"color":"#fff"},{"offset":0.5833,"color":"#fff"},{"offset":0.5833,"color":"#000"},{"offset":0.5972,"color":"#000"},{"offset":0.5972,"color":"#fff"},{"offset":0.6111,"color":"#fff"},{"offset":0.6111,"color":"#000"},{"offset":0.625,"color":"#000"},{"offset":0.625,"color":"#fff"},{"offset":0.6389,"color":"#fff"},{"offset":0.6389,"color":"#000"},{"offset":0.6528,"color":"#000"},{"offset":0.6528,"color":"#fff"},{"offset":0.6667,"color":"#fff"},{"offset":0.6667,"color":"#000"},{"offset":0.6806,"color":"#000"},{"offset":0.6806,"color":"#fff"},{"offset":0.6944,"color":"#fff"},{"offset":0.6944,"color":"#000"},{"offset":0.7083,"color":"#000"},{"offset":0.7083,"color":"#fff"},{"offset":0.7222,"color":"#fff"},{"offset":0.7222,"color":"#000"},{"offset":0.7361,"color":"#000"},{"offset":0.7361,"color":"#fff"},{"offset":0.75,"color":"#fff"},{"offset":0.75,"color":"#000"},{"offset":0.7639,"color":"#000"},{"offset":0.7639,"color":"#fff"},{"offset":0.7778,"color":"#fff"},{"offset":0.7778,"color":"#000"},{"offset":0.7917,"color":"#000"},{"offset":0.7917,"color":"#fff"},{"offset":0.8056,"color":"#fff"},{"offset":0.8056,"color":"#000"},{"offset":0.8194,"color":"#000"},{"offset":0.8194,"color":"#fff"},{"offset":0.8333,"color":"#fff"},{"offset":0.8333,"color":"#000"},{"offset":0.8472,"color":"#000"},{"offset":0.8472,"color":"#fff"},{"offset":0.8611,"color":"#fff"},{"offset":0.8611,"color":"#000"},{"offset":0.875,"color":"#000"},{"offset":0.875,"color":"#fff"},{"offset":0.8889,"color":"#fff"},{"offset":0.8889,"color":"#000"},{"offset":0.9028,"color":"#000"},{"offset":0.9028,"color":"#fff"},{"offset":0.9167,"color":"#fff"},{"offset":0.9167,"color":"#000"},{"offset":0.9306,"color":"#000"},{"offset":0.9306,"color":"#fff"},{"offset":0.9444,"color":"#fff"},{"offset":0.9444,"color":"#000"},{"offset":0.9583,"color":"#000"},{"offset":0.9583,"color":"#fff"},{"offset":0.9722,"color":"#fff"},{"offset":0.9722,"color":"#000"},{"offset":0.9861,"color":"#000"},{"offset":0.9861,"color":"#fff"},{"offset":1,"color":"#fff"}]}},"encoding":{"xOffset":{"field":"gs","type":"nominal","sort":null,"scale":{"domain":["−","+"],"paddingInner":0,"paddingOuter":0}},"y":{"datum":5,"type":"quantitative","title":null},"y2":{"datum":0}}},
{"transform":[{"filter":"datum.gs === '+'"}],"mark":{"type":"bar","fill":"#fff","stroke":"#fff","strokeWidth":2.5},"encoding":{"xOffset":{"field":"gs","type":"nominal","sort":null,"scale":{"domain":["−","+"],"paddingInner":0,"paddingOuter":0}},"y2":{"datum":5}}},
{"transform":[{"filter":"datum.cpd === 'V'"}],"mark":{"type":"bar","width":{"band":0.5},"stroke":"#000","strokeWidth":1.3},"encoding":{"fill":{"condition":{"test":"datum.bmp === '−'","value":"#ffffff"},"value":"#c0c0c0"}}},
{"transform":[{"filter":"datum.cpd !== 'V' && datum.gs === '−'"}],"mark":{"type":"bar","fill":"#000","stroke":"#000","strokeWidth":1.3},"encoding":{"xOffset":{"field":"gs","type":"nominal","sort":null,"scale":{"domain":["−","+"],"paddingInner":0,"paddingOuter":0}}}},
{"transform":[{"filter":"datum.gs === '+'"}],"mark":{"type":"bar","fill":"transparent","stroke":"#000","strokeWidth":1.3},"encoding":{"xOffset":{"field":"gs","type":"nominal","sort":null,"scale":{"domain":["−","+"],"paddingInner":0,"paddingOuter":0}}}},
{"transform":[{"filter":"datum.cpd === 'V'"}],"mark":{"type":"rule","color":"#000","strokeWidth":1.5},"encoding":{"y2":{"field":"upper"}}},
{"transform":[{"filter":"datum.cpd !== 'V'"}],"mark":{"type":"rule","color":"#000","strokeWidth":1.5},"encoding":{"xOffset":{"field":"gs","type":"nominal","sort":null,"scale":{"domain":["−","+"],"paddingInner":0,"paddingOuter":0}},"y2":{"field":"upper"}}},
{"transform":[{"filter":"datum.cpd === 'V'"}],"mark":{"type":"tick","orient":"horizontal","size":12,"thickness":1.6,"color":"#000","opacity":1},"encoding":{"y":{"field":"upper","type":"quantitative","title":null}}},
{"transform":[{"filter":"datum.cpd !== 'V'"}],"mark":{"type":"tick","orient":"horizontal","size":12,"thickness":1.6,"color":"#000","opacity":1},"encoding":{"xOffset":{"field":"gs","type":"nominal","sort":null,"scale":{"domain":["−","+"],"paddingInner":0,"paddingOuter":0}},"y":{"field":"upper","type":"quantitative","title":null}}},
{"transform":[{"filter":"datum.sig === '*'"}],"mark":{"type":"text","text":"*","fontSize":17,"dy":-9,"color":"#000"},"encoding":{"xOffset":{"field":"gs","type":"nominal","sort":null,"scale":{"domain":["−","+"],"paddingInner":0,"paddingOuter":0}},"y":{"field":"upper","type":"quantitative","title":null}}},
{"transform":[{"filter":"indexof(datum.sig, '#') === 0"}],"mark":{"type":"text","fontSize":11,"dy":-12,"color":"#000"},"encoding":{"xOffset":{"field":"gs","type":"nominal","sort":null,"scale":{"domain":["−","+"],"paddingInner":0,"paddingOuter":0}},"y":{"field":"upper","type":"quantitative","title":null},"text":{"field":"sig"}}}
]},
{"width":566,"height":90,"data":{"name":"bsep"},
"encoding":{"x":{"field":"grp","type":"nominal","sort":null,"scale":{"domain":["6d V1","6d V2","6d CDCA","6d GW","6d 3","6d 4","12d V1","12d V2","12d CDCA","12d GW","12d 3","12d 4"],"paddingInner":0.17,"paddingOuter":0.1666,"align":0.245},"axis":null}},
"resolve":{"scale":{"x":"independent"}},
"layer":[
{"transform":[{"filter":"datum.cpd === 'V'"}],"mark":{"type":"text","fontSize":15},"encoding":{"y":{"datum":"BMP-2","type":"ordinal","title":null,"scale":{"type":"point","domain":["BMP-2","GS","line","name","span","gap","day"],"padding":0},"axis":{"domain":false,"ticks":false,"labelPadding":7,"labelFontSize":14.5,"labelExpr":"datum.value === 'BMP-2' || datum.value === 'GS' ? datum.value : ''"}},"text":{"field":"bmp"},"fontWeight":{"condition":{"test":"datum.bmp === '−'","value":"bold"},"value":"normal"}}},
{"transform":[{"filter":"datum.cpd === 'V'"}],"mark":{"type":"text","fontSize":15,"fontWeight":"bold"},"encoding":{"y":{"datum":"GS","type":"ordinal","title":null,"scale":{"type":"point","domain":["BMP-2","GS","line","name","span","gap","day"],"padding":0}},"text":{"field":"gs"}}},
{"transform":[{"filter":"datum.cpd !== 'V'"}],"mark":{"type":"text","fontSize":15},"encoding":{"xOffset":{"field":"gs","type":"nominal","sort":null,"scale":{"domain":["−","+"],"paddingInner":0,"paddingOuter":0}},"y":{"datum":"BMP-2","type":"ordinal","title":null,"scale":{"type":"point","domain":["BMP-2","GS","line","name","span","gap","day"],"padding":0}},"text":{"field":"bmp"}}},
{"transform":[{"filter":"datum.cpd !== 'V'"}],"mark":{"type":"text","fontSize":15},"encoding":{"xOffset":{"field":"gs","type":"nominal","sort":null,"scale":{"domain":["−","+"],"paddingInner":0,"paddingOuter":0}},"y":{"datum":"GS","type":"ordinal","title":null,"scale":{"type":"point","domain":["BMP-2","GS","line","name","span","gap","day"],"padding":0}},"text":{"field":"gs"},"fontWeight":{"condition":{"test":"datum.gs === '−'","value":"bold"},"value":"normal"}}},
{"transform":[{"filter":"datum.gs === '−'"}],"mark":{"type":"text","fontSize":17,"dy":4},"encoding":{"y":{"datum":"name","type":"ordinal","title":null,"scale":{"type":"point","domain":["BMP-2","GS","line","name","span","gap","day"],"padding":0}},"text":{"field":"cpd"},"fontWeight":{"condition":{"test":"datum.cpd === '3' || datum.cpd === '4'","value":"bold"},"value":"normal"}}},
{"transform":[{"filter":"datum.cpd === 'V'"}],"mark":{"type":"tick","orient":"horizontal","size":25,"thickness":1.5,"color":"#000","opacity":1},"encoding":{"y":{"datum":"line","type":"ordinal","title":null,"scale":{"type":"point","domain":["BMP-2","GS","line","name","span","gap","day"],"padding":0}}}},
{"transform":[{"filter":"datum.cpd !== 'V' && datum.gs === '−'"}],"mark":{"type":"tick","orient":"horizontal","size":38,"thickness":1.5,"color":"#000","opacity":1},"encoding":{"y":{"datum":"line","type":"ordinal","title":null,"scale":{"type":"point","domain":["BMP-2","GS","line","name","span","gap","day"],"padding":0}}}},
{"transform":[{"filter":"datum.cpd === 'V' && datum.bmp === '−'"}],"mark":{"type":"tick","orient":"horizontal","size":262,"thickness":1.5,"color":"#000","opacity":1,"yOffset":6},"encoding":{"x":{"field":"day","type":"nominal","sort":null,"scale":{"type":"band","domain":["6 d","12 d"],"paddingInner":0,"paddingOuter":0.0291,"align":0.906},"axis":null},"y":{"datum":"span","type":"ordinal","title":null,"scale":{"type":"point","domain":["BMP-2","GS","line","name","span","gap","day"],"padding":0}}}},
{"transform":[{"filter":"datum.cpd === 'V' && datum.bmp === '−'"}],"mark":{"type":"text","fontSize":17},"encoding":{"x":{"field":"day","type":"nominal","sort":null,"scale":{"type":"band","domain":["6 d","12 d"],"paddingInner":0,"paddingOuter":0.0291,"align":0.906},"axis":null},"y":{"datum":"day","type":"ordinal","title":null,"scale":{"type":"point","domain":["BMP-2","GS","line","name","span","gap","day"],"padding":0}},"text":{"field":"day"}}}
]}
]}
],
"config":{
"font":"Liberation Sans",
"view":{"stroke":null},
"axis":{"grid":false,"domainColor":"#000","tickColor":"#000","labelColor":"#000","titleColor":"#000","labelFont":"Liberation Sans","titleFont":"Liberation Sans"},
"axisY":{"tickSize":5,"tickWidth":1.5,"domainWidth":1.5,"labelPadding":6,"labelFontSize":17,"titleFontSize":24,"titleFontWeight":"normal","titlePadding":89},
"axisX":{"domainWidth":1.5},
"title":{"fontSize":23,"fontWeight":"normal","color":"#000","offset":3,"font":"Liberation Sans","anchor":"middle"},
"text":{"color":"#000","font":"Liberation Sans"}
}
}
